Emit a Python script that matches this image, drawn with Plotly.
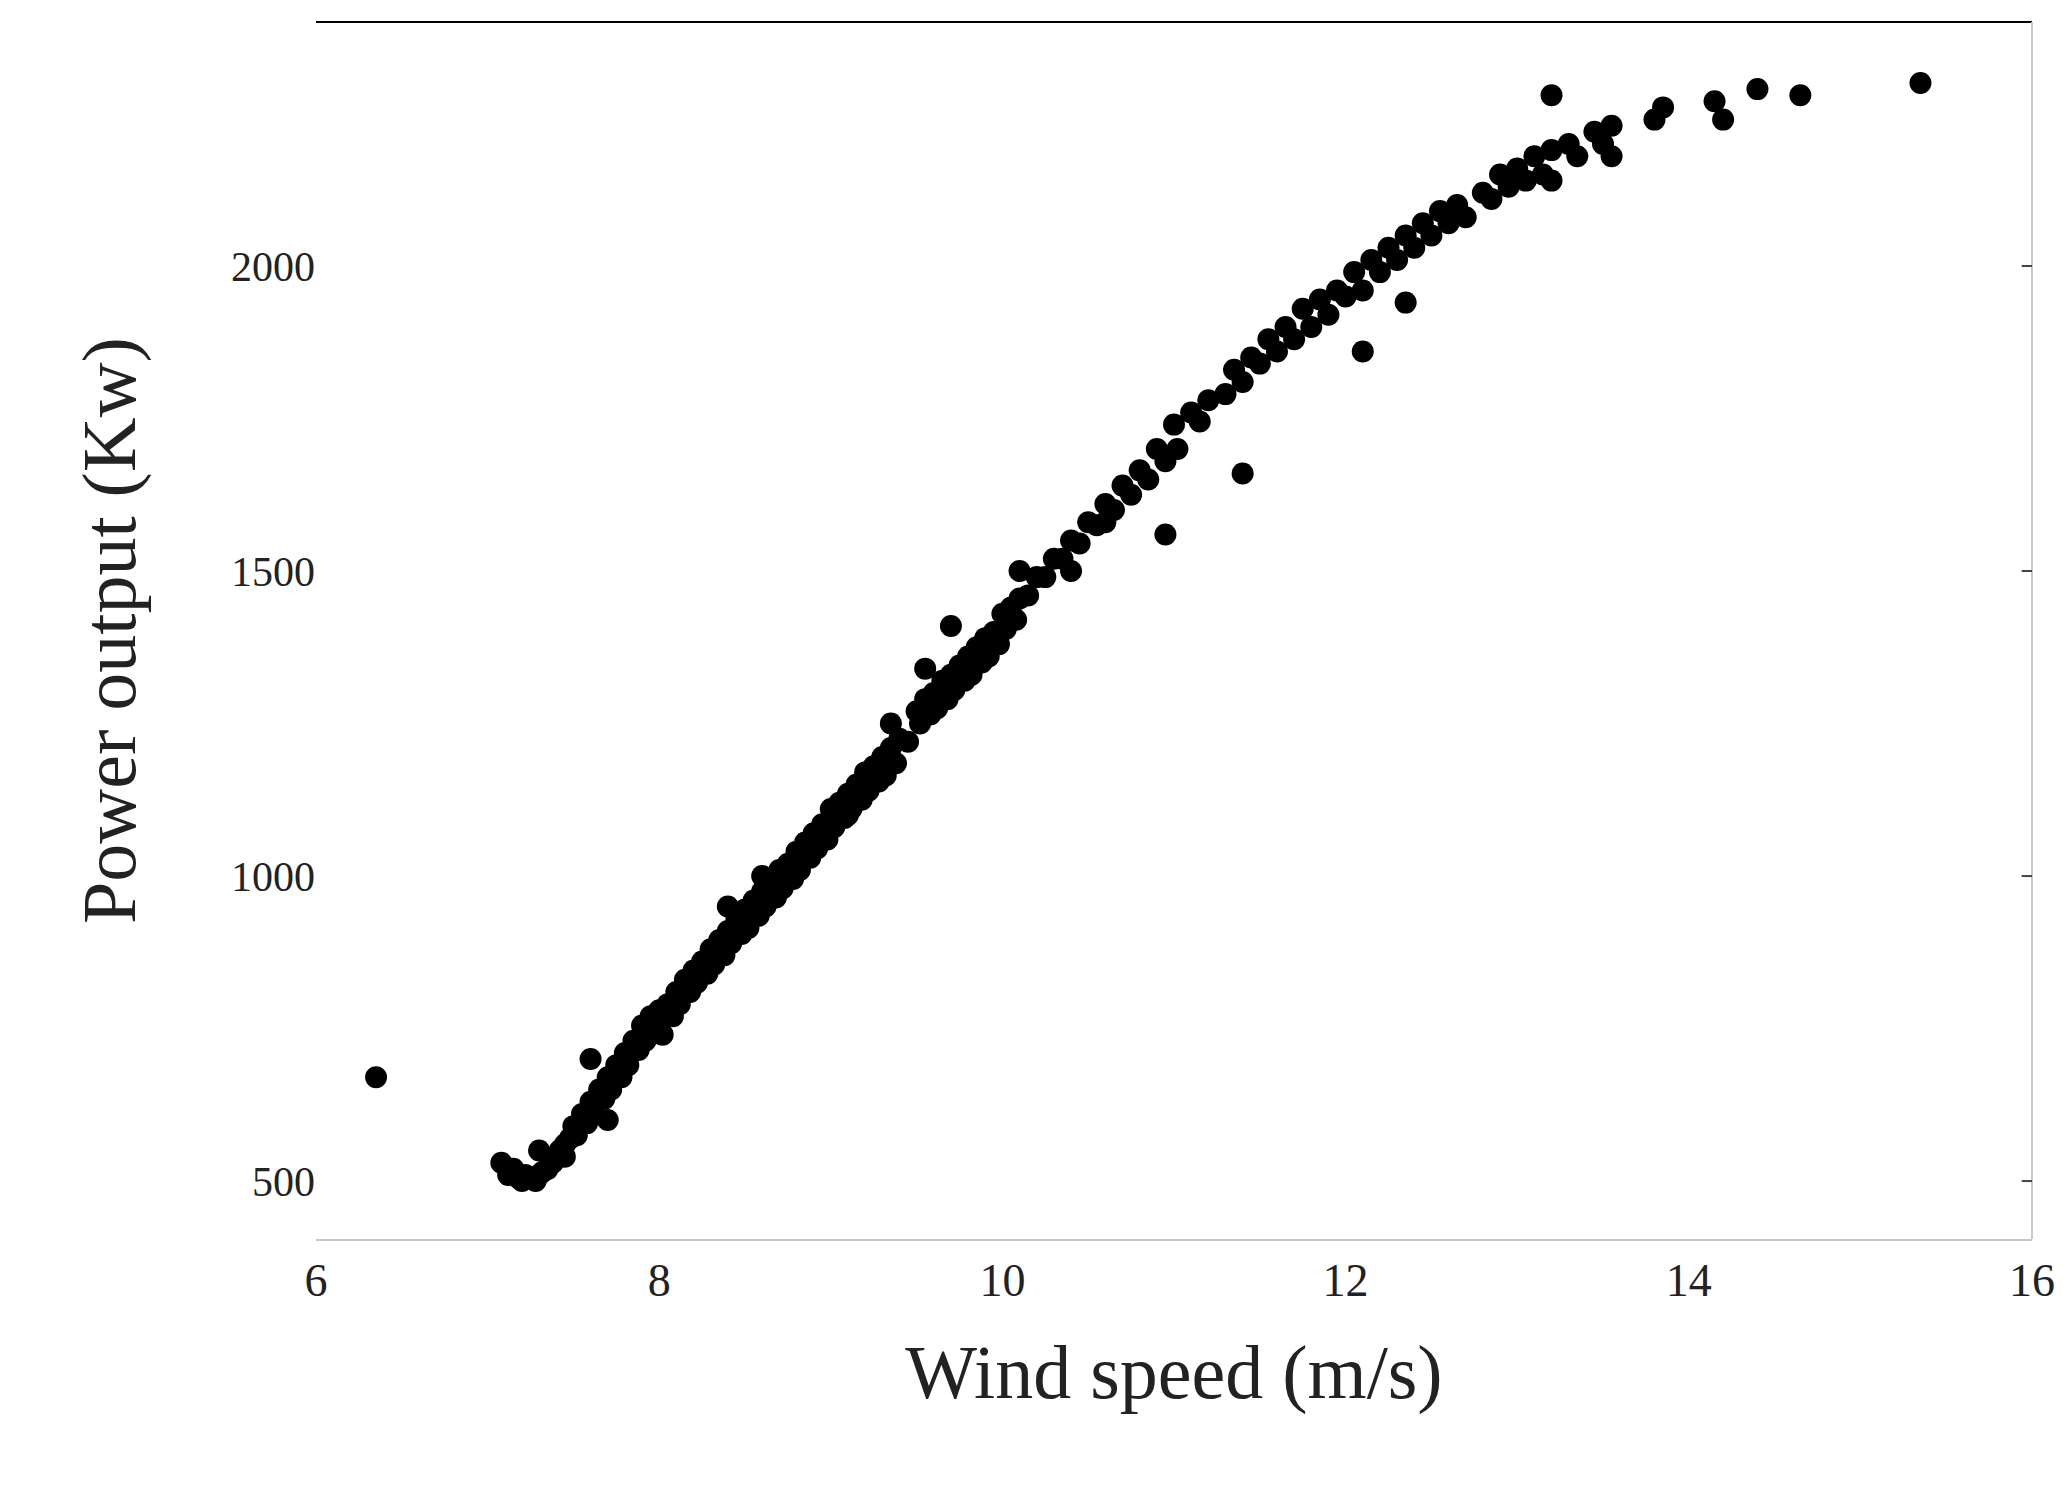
import plotly.graph_objects as go

wind = [6.35, 7.08, 7.12, 7.15, 7.18, 7.2, 7.22, 7.25, 7.28, 7.3, 7.32, 7.35, 7.38, 7.4, 7.42, 7.45,
        7.48, 7.5, 7.52, 7.55, 7.58, 7.6, 7.62, 7.65, 7.68, 7.7, 7.72, 7.75, 7.78, 7.8, 7.82, 7.85,
        7.88, 7.9, 7.92, 7.95, 7.98, 8.0, 8.02, 8.05, 8.08, 8.1, 8.12, 8.15, 8.18, 8.2, 8.22, 8.25,
        8.28, 8.3, 8.32, 8.35, 8.38, 8.4, 8.42, 8.45, 8.48, 8.5, 8.52, 8.55, 8.58, 8.6, 8.62, 8.65,
        8.68, 8.7, 8.72, 8.75, 8.78, 8.8, 8.82, 8.85, 8.88, 8.9, 8.92, 8.95, 8.98, 9.0, 9.02, 9.05,
        9.08, 9.1, 9.12, 9.15, 9.18, 9.2, 9.22, 9.25, 9.28, 9.3, 9.32, 9.35, 9.38, 9.4, 9.45, 9.5,
        9.52, 9.55, 9.58, 9.6, 9.62, 9.65, 9.68, 9.7, 9.72, 9.75, 9.78, 9.8, 9.82, 9.85, 9.88, 9.9,
        9.92, 9.95, 9.98, 10.0, 10.02, 10.05, 10.08, 10.1, 10.15, 10.2, 10.25, 10.3, 10.35, 10.4,
        10.45, 10.5, 10.55, 10.6, 10.65, 10.7, 10.75, 10.8, 10.85, 10.9, 10.95, 11.0, 11.02, 11.1,
        11.15, 11.2, 11.3, 11.35, 11.4, 11.45, 11.5, 11.55, 11.6, 11.65, 11.7, 11.75, 11.8, 11.85,
        11.9, 11.95, 12.0, 12.05, 12.1, 12.15, 12.2, 12.25, 12.3, 12.35, 12.4, 12.45, 12.5, 12.55,
        12.6, 12.65, 12.7, 12.8, 12.85, 12.9, 12.95, 13.0, 13.05, 13.1, 13.15, 13.2, 13.2, 13.3,
        13.35, 13.45, 13.5, 13.55, 13.8, 13.85, 14.15, 14.2, 14.4, 14.65, 15.35,
        7.3, 7.45, 7.6, 7.7, 7.95, 8.4, 8.6, 9.1, 9.35, 9.55, 9.7, 10.1, 10.4, 10.6, 10.95, 11.4,
        12.1, 12.35, 13.2, 13.55]
power = [670, 530, 510, 520, 505, 500, 510, 505, 500, 510, 515, 520, 530, 540, 550, 560,
         570, 590, 575, 610, 595, 630, 610, 650, 635, 670, 650, 690, 670, 710, 690, 730,
         715, 755, 730, 770, 750, 780, 740, 790, 770, 810, 790, 830, 810, 845, 825, 860,
         840, 880, 855, 895, 870, 910, 890, 930, 905, 945, 915, 960, 935, 975, 950, 990,
         965, 1010, 980, 1020, 995, 1040, 1010, 1055, 1030, 1070, 1045, 1085, 1060, 1110, 1080, 1120,
         1095, 1135, 1110, 1150, 1125, 1170, 1140, 1180, 1155, 1195, 1165, 1210, 1185, 1225, 1220, 1270,
         1250, 1290, 1265, 1300, 1275, 1320, 1290, 1330, 1305, 1345, 1320, 1360, 1330, 1375, 1350, 1390,
         1360, 1400, 1380, 1430, 1405, 1440, 1420, 1455, 1460, 1490, 1490, 1520, 1520, 1550,
         1545, 1580, 1575, 1610, 1600, 1640, 1625, 1665, 1650, 1700, 1680, 1740, 1700, 1760,
         1745, 1780, 1790, 1830, 1810, 1850, 1840, 1880, 1860, 1900, 1880, 1930, 1900, 1945,
         1920, 1960, 1950, 1990, 1960, 2010, 1990, 2030, 2010, 2050, 2030, 2070, 2050, 2090,
         2070, 2100, 2080, 2120, 2110, 2150, 2130, 2160, 2140, 2180, 2150, 2280, 2190, 2200,
         2180, 2220, 2200, 2230, 2240, 2260, 2270, 2240, 2290, 2280, 2300,
         550, 540, 700, 600, 740, 950, 1000, 1100, 1250, 1340, 1410, 1500, 1500, 1580, 1560, 1660,
         1860, 1940, 2140, 2180]

fig = go.Figure(go.Scatter(
    x=wind, y=power, mode="markers",
    marker=dict(color="black", size=22),
))

font = "Liberation Serif, DejaVu Serif, serif"
fig.update_layout(
    width=2070, height=1494,
    plot_bgcolor="white", paper_bgcolor="white",
    margin=dict(l=308, r=46, t=14, b=263),
    showlegend=False,
    font=dict(family=font, color="#222", size=44),
)
fig.update_xaxes(
    range=[6, 16], dtick=2, showgrid=False, zeroline=False,
    showline=True, linecolor="#c8c8c8", linewidth=2, mirror=False,
    ticks="", tickfont=dict(size=46),
    title=dict(text="Wind speed (m/s)", font=dict(size=76), standoff=40),
)
fig.update_yaxes(
    range=[405, 2400], tickvals=[500, 1000, 1500, 2000], showgrid=False, zeroline=False,
    showline=False, ticks="", tickfont=dict(size=42),
    title=dict(text="Power output (Kw)", font=dict(size=76), standoff=70),
)
# top black border and right grey border with tick marks
fig.add_shape(type="line", xref="paper", yref="paper", x0=0, x1=1, y0=1, y1=1,
              line=dict(color="black", width=2))
fig.add_shape(type="line", xref="paper", yref="paper", x0=1, x1=1, y0=0, y1=1,
              line=dict(color="#c8c8c8", width=2))
for v in [500, 1000, 1500, 2000]:
    fig.add_shape(type="line", xref="paper", yref="y", x0=0.994, x1=1.0, y0=v, y1=v,
                  line=dict(color="#444", width=2))

fig.write_html("out.html")
